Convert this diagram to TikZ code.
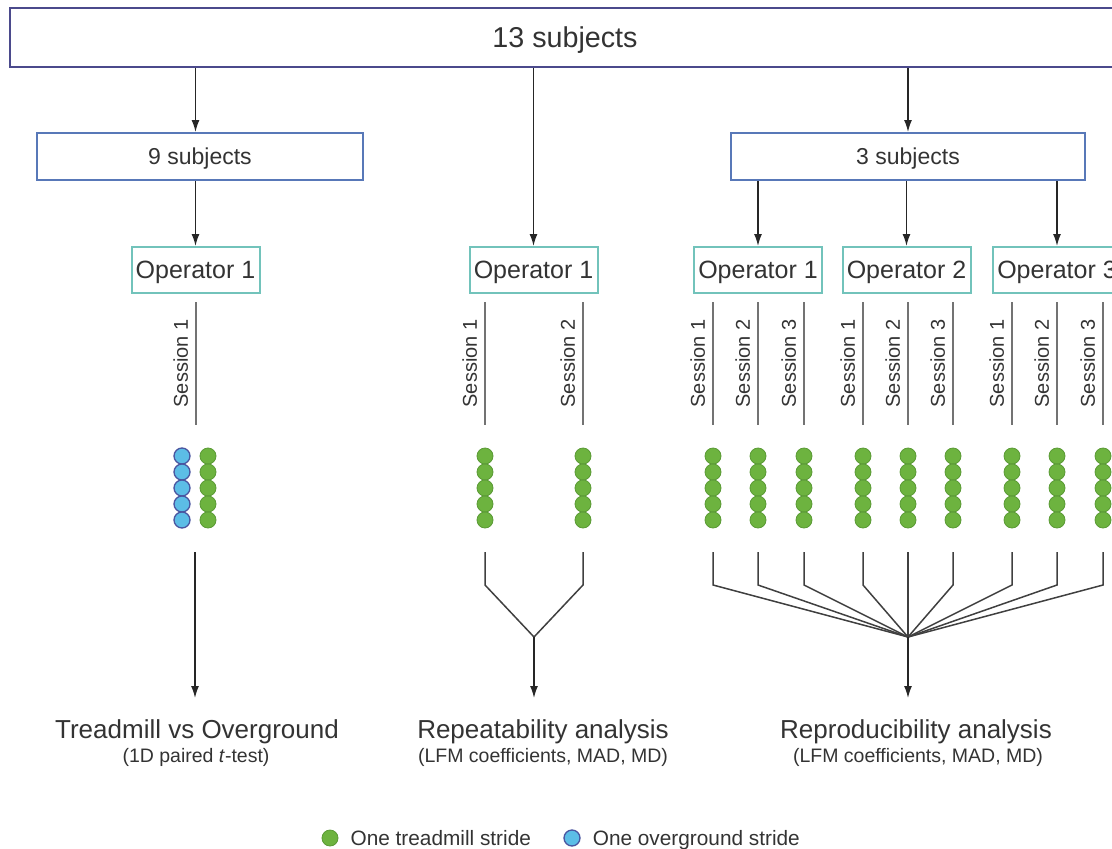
\documentclass[tikz,border=0pt]{standalone}
\usepackage{fontspec}
\setmainfont{Liberation Sans}
\usepackage{xcolor}
\usetikzlibrary{arrows.meta,positioning}

\definecolor{topblue}{HTML}{4B4A8C}
\definecolor{subjblue}{HTML}{5878B8}
\definecolor{opteal}{HTML}{72C3BB}
\definecolor{treadgreen}{HTML}{6DB33F}
\definecolor{treadedge}{HTML}{5A9A35}
\definecolor{overblue}{HTML}{5CBDE6}
\definecolor{overedge}{HTML}{4A55A0}
\definecolor{txt}{HTML}{333333}

\begin{document}
\begin{tikzpicture}[x=1pt,y=-1pt,
    every node/.style={text=txt},
    topbox/.style={draw=topblue,line width=2.5pt,minimum height=59pt,text depth=0pt,font=\fontsize{28.7}{34}\selectfont},
    subjbox/.style={draw=subjblue,line width=2pt,minimum height=47pt,text depth=0pt,font=\fontsize{23}{27}\selectfont},
    opbox/.style={draw=opteal,line width=2pt,minimum width=128pt,minimum height=46pt,text depth=0pt,font=\fontsize{25}{30}\selectfont},
    sess/.style={rotate=90,anchor=south,inner sep=0pt,font=\fontsize{20}{24}\selectfont},
    arr/.style={-{Latex[length=12pt,width=8pt]},line width=1.4pt,draw=black!85},
    sessline/.style={draw=black!55,line width=1.8pt},
    fan/.style={draw=black!75,line width=1.5pt},
    treaddot/.style={circle,fill=treadgreen,draw=treadedge,line width=0.8pt,minimum size=16pt,inner sep=0pt},
    overdot/.style={circle,fill=overblue,draw=overedge,line width=1.3pt,minimum size=16pt,inner sep=0pt},
    restitle/.style={font=\fontsize{26}{31}\selectfont},
    ressub/.style={font=\fontsize{19.5}{23}\selectfont},
    legtxt/.style={inner sep=0pt,text depth=0pt,font=\fontsize{20.8}{25}\selectfont}]
  \useasboundingbox (0,0) rectangle (1112,849);
  \clip (0,0) rectangle (1112,849);

  % boxes
  \node[topbox,minimum width=1110pt] (all) at (565,37.5) {13 subjects};
  \node[subjbox,minimum width=326pt] (nine) at (200,156.5) {9 subjects};
  \node[subjbox,minimum width=354pt] (three) at (908,156.5) {3 subjects};

  \node[opbox] (opA) at (195.5,270) {Operator 1};
  \node[opbox] (opB) at (533.5,270) {Operator 1};
  \foreach \n/\x in {1/758,2/906.5,3/1057}
    \node[opbox] (opC\n) at (\x,270) {Operator \n};

  \draw[arr] (all.south -| opA) -- (nine.north -| opA);
  \draw[arr] (all.south -| opB) -- (opB.north);
  \draw[arr] (all.south -| three) -- (three.north);
  \draw[arr] (nine.south -| opA) -- (opA.north);
  \foreach \n in {1,2,3}
    \draw[arr] (three.south -| opC\n) -- (opC\n.north);

  % sessions
  \foreach \x/\s in {196/1,485/1,583/2,713/1,758/2,804/3,863/1,908/2,953/3,1012/1,1057/2,1103/3}
    \draw[sessline] (\x,302) -- (\x,425) node[midway,xshift=-7pt,sess] {Session \s};

  % strides
  \foreach \k in {0,...,4} {
    \node[overdot] at (182,{456+16*\k}) {};
    \node[treaddot] at (208,{456+16*\k}) {};
  }
  \foreach \x in {485,583,713,758,804,863,908,953,1012,1057,1103}
    \foreach \k in {0,...,4}
      \node[treaddot] at (\x,{456+16*\k}) {};

  % pooling
  \coordinate (startA) at (195,552);
  \coordinate (hubB) at (534,637);
  \coordinate (hubC) at (908,637);
  \coordinate (endA) at (195,698);
  \coordinate (endB) at (534,698);
  \coordinate (endC) at (908,698);
  \foreach \x in {485,583}
    \draw[fan] (\x,552) -- (\x,585) -- (hubB);
  \foreach \x in {713,758,804,863,953,1012,1057,1103}
    \draw[fan] (\x,552) -- (\x,585) -- (hubC);
  \draw[fan] (908,552) -- (hubC);
  \draw[arr] (startA) -- (endA);
  \draw[arr] (hubB) -- (endB);
  \draw[arr] (hubC) -- (endC);

  % analyses
  \node[restitle] (resA) at (197,732) {Treadmill vs Overground};
  \node[ressub] (subA) at (196,757) {(1D paired \textit{t}-test)};
  \node[restitle] (resB) at (543,732) {Repeatability analysis};
  \node[ressub] (subB) at (543,757) {(LFM coefficients, MAD, MD)};
  \node[restitle] (resC) at (916,732) {Reproducibility analysis};
  \node[ressub] (subC) at (918,757) {(LFM coefficients, MAD, MD)};

  % legend
  \node[treaddot] (legG) at (330,838) {};
  \node[legtxt,right=12pt of legG] (legGtxt) {One treadmill stride};
  \node[overdot] (legB) at (572,838) {};
  \node[legtxt,right=12pt of legB] (legBtxt) {One overground stride};
\end{tikzpicture}
\end{document}
